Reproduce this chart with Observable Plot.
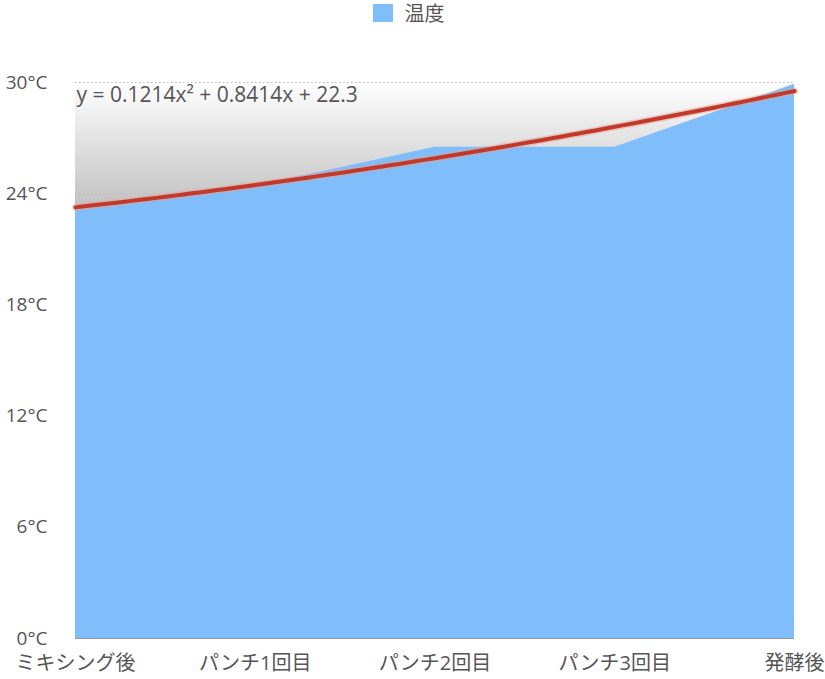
<!DOCTYPE html>
<html>
<head>
<meta charset="utf-8">
<script src="https://cdn.jsdelivr.net/npm/d3@7"></script>
<script src="https://cdn.jsdelivr.net/npm/@observablehq/plot@0.6"></script>
<style>
  body { margin: 0; background: #fff; font-family: "Open Sans", "Noto Sans CJK JP", sans-serif; }
  #legend { height: 40px; box-sizing: border-box; padding-top: 1px; padding-right: 8px; display: flex; justify-content: center; align-items: flex-start; gap: 12px; color: #555; font-size: 20px; }
  #legend .sw { width: 20px; height: 18px; background: #80bdfb; margin-top: 3px; }
  #legend span { line-height: 26px; }
</style>
</head>
<body>
<div id="legend"><div class="sw"></div><span>温度</span></div>
<div id="chart"></div>
<script>
const categories = ["ミキシング後", "パンチ1回目", "パンチ2回目", "パンチ3回目", "発酵後"];
const temperatures = [23.1, 24.4, 26.5, 26.5, 29.9];
const yTicks = [0, 6, 12, 18, 24, 30];
const trendCoefficients = [0.1214, 0.8414, 22.3]; // a, b, c  (y = a x² + b x + c)
const trendLabel = "y = 0.1214x² + 0.8414x + 22.3";

const data = categories.map((c, i) => ({ idx: i + 1, cat: c, t: temperatures[i] }));
const [a, b, c] = trendCoefficients;
const trend = d3.range(1, 5.0001, 0.05).map(x => ({ idx: x, t: a * x * x + b * x + c }));

const gradientDefs = (index, scales, values, dims) => {
  const g = d3.create("svg:defs");
  const lg = g.append("linearGradient").attr("id", "grayGrad")
    .attr("gradientUnits", "userSpaceOnUse")
    .attr("x1", 0).attr("x2", 0)
    .attr("y1", scales.y(30)).attr("y2", scales.y(22.8));
  lg.append("stop").attr("offset", "0%").attr("stop-color", "#ffffff");
  lg.append("stop").attr("offset", "100%").attr("stop-color", "#bdbdbd");
  return g.node();
};

const chart = Plot.plot({
  width: 825,
  height: 639,
  marginTop: 42,
  marginBottom: 41,
  marginLeft: 75,
  marginRight: 31,
  style: { fontFamily: "'Open Sans','Noto Sans CJK JP', sans-serif", fontSize: "19px", color: "#555", overflow: "visible" },
  x: { domain: [1, 5], label: null },
  y: { domain: [0, 30], label: null },
  marks: [
    gradientDefs,
    Plot.areaY(trend, { x: "idx", y1: 0, y2: 30, fill: "url(#grayGrad)" }),
    Plot.ruleY(yTicks.filter(d => d > 0), { stroke: "#bbb", strokeDasharray: "1.5,2.5", strokeWidth: 1 }),
    Plot.areaY(data, { x: "idx", y: "t", fill: "#80bdfb" }),
    Plot.ruleY([0], { stroke: "#999", strokeWidth: 1 }),
    Plot.line(trend, { x: "idx", y: "t", stroke: "#e8a090", strokeWidth: 7, strokeOpacity: 0.5 }),
    Plot.line(trend, { x: "idx", y: "t", stroke: "#c0392b", strokeWidth: 4 }),
    Plot.text([trendLabel], { frameAnchor: "top-left", dx: 1, dy: 5, text: d => d, fontSize: 21, fill: "#555", textAnchor: "start", lineAnchor: "top" }),
    Plot.axisY({ ticks: yTicks, tickFormat: d => `${d}°C`, tickSize: 0, tickPadding: 28, textAnchor: "end", fontSize: 19 }),
    Plot.axisX({ ticks: [1, 2, 3, 4, 5], tickFormat: d => categories[d - 1], tickSize: 0, tickPadding: 17, fontSize: 20 })
  ]
});
document.getElementById("chart").appendChild(chart);
</script>
</body>
</html>
